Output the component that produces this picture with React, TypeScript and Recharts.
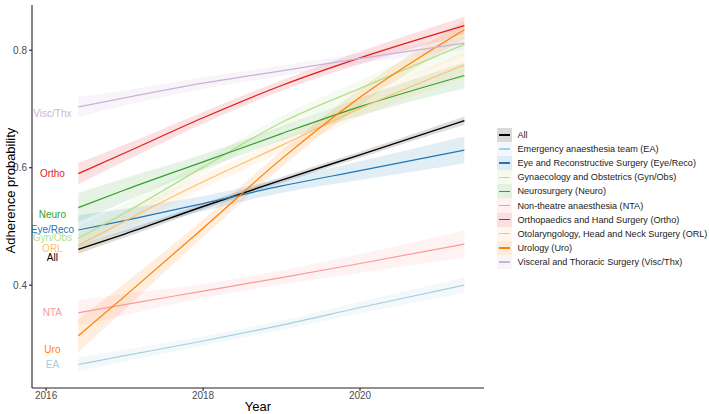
import React from "react"
import { ComposedChart, Area, Line, Scatter, XAxis, YAxis } from "recharts"

// sample positions along the fitted curves (year)
const years = [2016.41, 2017, 2018, 2019, 2020, 2021.33]

const seriesKeys = ["All", "EA", "Eye", "Gyn", "Neuro", "NTA", "Ortho", "ORL", "Uro", "Visc"]
const shortNames = ["All", "EA", "Eye/Reco", "Gyn/Obs", "Neuro", "NTA", "Ortho", "ORL", "Uro", "Visc/Thx"]
const legendNames = [
    "All",
    "Emergency anaesthesia team (EA)",
    "Eye and Reconstructive Surgery (Eye/Reco)",
    "Gynaecology and Obstetrics (Gyn/Obs)",
    "Neurosurgery (Neuro)",
    "Non-theatre anaesthesia (NTA)",
    "Orthopaedics and Hand Surgery (Ortho)",
    "Otolaryngology, Head and Neck Surgery (ORL)",
    "Urology (Uro)",
    "Visceral and Thoracic Surgery (Visc/Thx)",
]
const colors = ["#000000", "#A6CEE3", "#1F78B4", "#B2DF8A", "#33A02C", "#FB9A99", "#E31A1C", "#FDBF6F", "#FF7F00", "#CAB2D6"]

// fitted adherence probability at each sample year
const allValues = [0.461, 0.487, 0.534, 0.579, 0.622, 0.68]
const eaValues = [0.265, 0.28, 0.305, 0.332, 0.362, 0.4]
const eyeValues = [0.494, 0.51, 0.539, 0.569, 0.595, 0.63]
const gynValues = [0.48, 0.523, 0.601, 0.677, 0.735, 0.81]
const neuroValues = [0.532, 0.562, 0.61, 0.658, 0.704, 0.757]
const ntaValues = [0.353, 0.367, 0.39, 0.413, 0.437, 0.47]
const orthoValues = [0.59, 0.625, 0.685, 0.74, 0.787, 0.842]
const orlValues = [0.468, 0.509, 0.576, 0.638, 0.701, 0.775]
const uroValues = [0.314, 0.381, 0.497, 0.615, 0.72, 0.835]
const viscValues = [0.7035, 0.719, 0.744, 0.765, 0.786, 0.812]

// half width of the confidence band at each sample year
const allCi = [0.007, 0.006, 0.005, 0.005, 0.005, 0.007]
const eaCi = [0.012, 0.01, 0.008, 0.008, 0.01, 0.013]
const eyeCi = [0.025, 0.02, 0.013, 0.012, 0.016, 0.023]
const gynCi = [0.02, 0.016, 0.011, 0.011, 0.014, 0.02]
const neuroCi = [0.025, 0.02, 0.013, 0.012, 0.015, 0.022]
const ntaCi = [0.022, 0.018, 0.012, 0.012, 0.016, 0.023]
const orthoCi = [0.018, 0.014, 0.01, 0.009, 0.011, 0.015]
const orlCi = [0.02, 0.016, 0.012, 0.012, 0.015, 0.022]
const uroCi = [0.028, 0.022, 0.015, 0.014, 0.014, 0.015]
const viscCi = [0.017, 0.013, 0.01, 0.009, 0.009, 0.011]

// where the group labels sit on the left
const labelYear = 2016.08
const labelValues = [0.448, 0.265, 0.494, 0.482, 0.521, 0.354, 0.59, 0.463, 0.291, 0.693]

const values = [allValues, eaValues, eyeValues, gynValues, neuroValues, ntaValues, orthoValues, orlValues, uroValues, viscValues]
const cis = [allCi, eaCi, eyeCi, gynCi, neuroCi, ntaCi, orthoCi, orlCi, uroCi, viscCi]

const chartData = years.map((year, i) => {
    const row: Record<string, any> = { year }
    seriesKeys.forEach((key, s) => {
        row[key] = values[s][i]
        row[key + "Band"] = [values[s][i] - cis[s][i], values[s][i] + cis[s][i]]
    })
    return row
})

const labelData = seriesKeys.map((key, s) => ({
    year: labelYear,
    value: labelValues[s],
    name: shortNames[s],
    color: colors[s],
}))

const font = "'Liberation Sans', Arial, Helvetica, sans-serif"
const axisColor = "#222"

function LegendBox() {
    return (
        <div
            style={{
                position: "absolute",
                left: 497,
                top: 128,
                fontFamily: font,
                fontSize: 9.1,
                color: "#1a1a1a",
            }}
        >
            {seriesKeys.map((key, s) => (
                <div key={key} style={{ display: "flex", alignItems: "center", height: 14.1 }}>
                    <div
                        style={{
                            width: 15,
                            height: 14.1,
                            position: "relative",
                            background: s === 0 ? "#d9d9d9" : colors[s],
                        }}
                    >
                        {s !== 0 && (
                            <div style={{ position: "absolute", inset: 0, background: "#fff", opacity: 0.86 }} />
                        )}
                        <div
                            style={{
                                position: "absolute",
                                left: 2,
                                right: 2,
                                top: 6.3,
                                height: 1.5,
                                background: colors[s],
                            }}
                        />
                    </div>
                    <span style={{ marginLeft: 5.5, whiteSpace: "nowrap" }}>{legendNames[s]}</span>
                </div>
            ))}
        </div>
    )
}

export default function App() {
    return (
        <div style={{ position: "absolute", left: 0, top: 0, width: 709, height: 414, background: "#fff" }}>
            <ComposedChart
                width={709}
                height={414}
                data={chartData}
                margin={{ top: 5, right: 225, bottom: 0, left: 0 }}
                style={{ fontFamily: font }}
            >
                <XAxis
                    dataKey="year"
                    type="number"
                    domain={[2015.82, 2021.58]}
                    ticks={[2016, 2018, 2020]}
                    allowDataOverflow
                    height={26}
                    tickSize={3}
                    tickMargin={1}
                    tick={{ fill: "#4D4D4D", fontSize: 10 }}
                    axisLine={{ stroke: axisColor, strokeWidth: 1.1 }}
                    tickLine={{ stroke: axisColor, strokeWidth: 1.1 }}
                    label={{ value: "Year", position: "insideBottom", offset: 3, fill: "#000", fontSize: 13 }}
                />
                <YAxis
                    type="number"
                    domain={[0.225, 0.877]}
                    ticks={[0.4, 0.6, 0.8]}
                    allowDataOverflow
                    width={32}
                    tickSize={3}
                    tickMargin={2}
                    tickFormatter={(v: number) => v.toFixed(1)}
                    tick={{ fill: "#4D4D4D", fontSize: 10 }}
                    axisLine={{ stroke: axisColor, strokeWidth: 1.1 }}
                    tickLine={{ stroke: axisColor, strokeWidth: 1.1 }}
                    label={{
                        value: "Adherence probability",
                        angle: -90,
                        position: "insideLeft",
                        offset: 10,
                        dy: -6,
                        fill: "#000",
                        fontSize: 13,
                        style: { textAnchor: "middle" },
                    }}
                />
                {seriesKeys.map((key, s) => (
                    <Area
                        key={key + "Band"}
                        dataKey={key + "Band"}
                        type="monotone"
                        stroke="none"
                        fill={s === 0 ? "#777" : colors[s]}
                        fillOpacity={s === 0 ? 0.25 : 0.13}
                        isAnimationActive={false}
                        legendType="none"
                        activeDot={false}
                    />
                ))}
                {seriesKeys.map((key, s) => (
                    <Line
                        key={key}
                        dataKey={key}
                        type="monotone"
                        stroke={colors[s]}
                        strokeWidth={s === 0 ? 1.4 : 1.2}
                        dot={false}
                        activeDot={false}
                        isAnimationActive={false}
                    />
                ))}
                <Scatter
                    data={labelData}
                    dataKey="value"
                    isAnimationActive={false}
                    legendType="none"
                    shape={(props: any) => (
                        <text
                            x={props.cx}
                            y={props.cy}
                            textAnchor="middle"
                            dominantBaseline="central"
                            fill={props.payload.color}
                            fontSize={10}
                            fontFamily={font}
                        >
                            {props.payload.name}
                        </text>
                    )}
                />
            </ComposedChart>
            <LegendBox />
        </div>
    )
}
